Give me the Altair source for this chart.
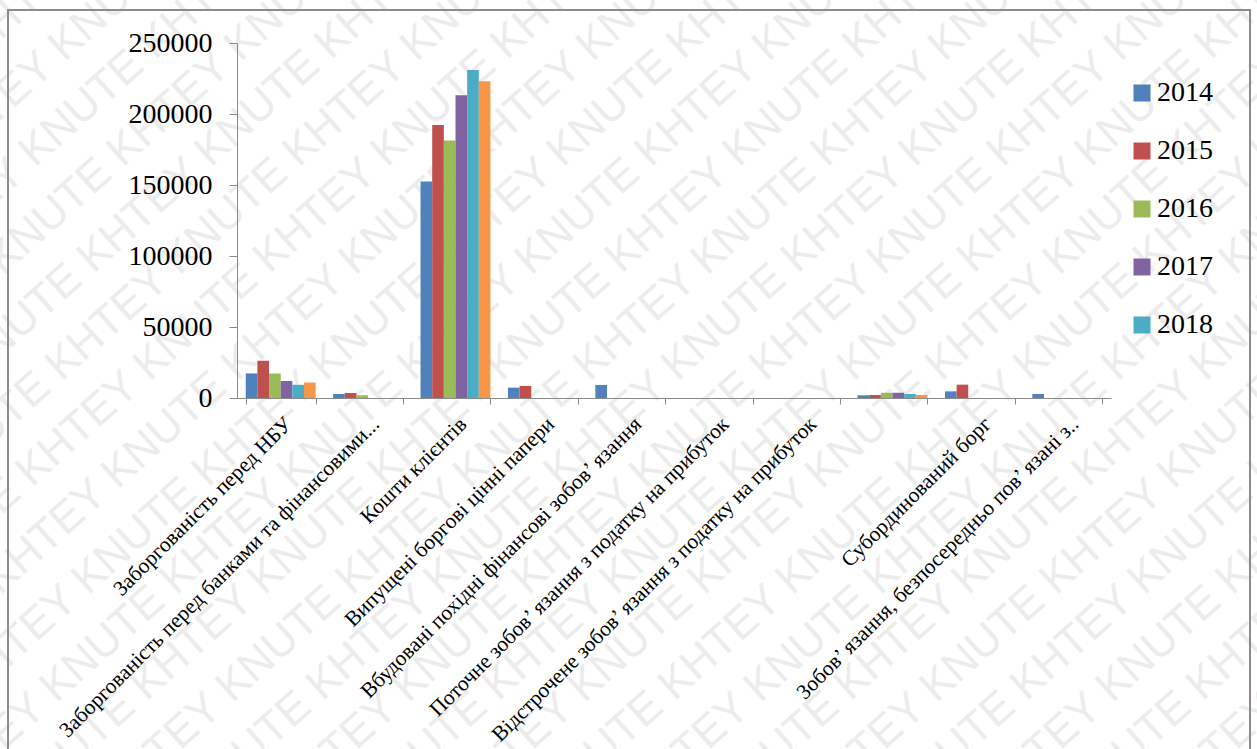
import altair as alt
import numpy as np
import pandas as pd

# Liability items (the eighth item carries no visible caption)
categories = [
    "Заборгованість перед НБУ",
    "Заборгованість перед банками та фінансовими...",
    "Кошти клієнтів",
    "Випущені боргові цінні папери",
    "Вбудовані похідні фінансові зобов’ язання",
    "Поточне зобов’ язання з податку на прибуток",
    "Відстрочене зобов’ язання з податку на прибуток",
    " ",
    "Субординований борг",
    "Зобов’ язання, безпосередньо пов’ язані з..",
]
years = ["2014", "2015", "2016", "2017", "2018", "2019"]
legend_years = ["2014", "2015", "2016", "2017", "2018"]
colors = ["#4F81BD", "#C0504D", "#9BBB59", "#8064A2", "#4BACC6", "#F79646"]

v2014 = [17300, 2800, 152500, 7300, 9200, 0, 0, 1900, 4700, 2800]
v2015 = [26300, 3500, 192200, 8500, 0, 0, 0, 2100, 9400, 0]
v2016 = [17300, 1900, 181400, 0, 0, 0, 0, 3700, 0, 0]
v2017 = [11900, 0, 213200, 0, 0, 0, 0, 3700, 0, 0]
v2018 = [9300, 0, 231000, 0, 0, 0, 0, 2800, 0, 0]
v2019 = [10900, 0, 223100, 0, 0, 0, 0, 2100, 0, 0]
y_ticks = [0, 50000, 100000, 150000, 200000, 250000]

series = [v2014, v2015, v2016, v2017, v2018, v2019]
rows = []
for year, vals in zip(years, series):
    for cat, v in zip(categories, vals):
        rows.append({"item": cat, "year": year, "value": v})
df = pd.DataFrame(rows)

SERIF = "Liberation Serif"
AXIS_GRAY = "#8a8a8a"

W, H = 874, 355
LEFT, TOP = 237, 43

# Diagonal "KHTEY KNUTE" watermark lines (pixel positions relative to the plot origin)
wm_step = 88
wm_x0 = np.arange(-950, 1300, wm_step)
wm = pd.DataFrame({
    "wx": wm_x0 - LEFT,
    "wy": np.full(len(wm_x0), 800 - TOP),
    "txt": [("KHTEY KNUTE " if i % 2 == 0 else "KNUTE KHTEY ") * 5 for i in range(len(wm_x0))],
})

watermark = alt.Chart(wm).mark_text(
    align="left", baseline="middle", angle=318, font="Liberation Sans",
    fontSize=44, color="#ececec",
).encode(
    x=alt.X("wx:Q", scale=None, axis=None),
    y=alt.Y("wy:Q", scale=None, axis=None),
    text="txt:N",
)

frame = alt.Chart(alt.Data(values=[{}])).mark_rect(
    fill="transparent", stroke="#8c8c8c", strokeWidth=2,
).encode(
    x=alt.value(8 - LEFT), x2=alt.value(1250 - LEFT),
    y=alt.value(10 - TOP), y2=alt.value(760 - TOP),
)

bars = alt.Chart(df).mark_bar().encode(
    x=alt.X(
        "item:N",
        sort=categories,
        scale=alt.Scale(paddingInner=0.2, paddingOuter=0.1),
        axis=alt.Axis(
            title=None, labelAngle=-45, labelAlign="right", labelBaseline="top",
            labelFont=SERIF, labelFontSize=21.5, labelColor="black", labelLimit=0,
            labelPadding=9, tickBand="extent", tickSize=6, tickColor=AXIS_GRAY,
            domainColor=AXIS_GRAY, grid=False, zindex=1,
        ),
    ),
    xOffset=alt.XOffset("year:N", sort=years, scale=alt.Scale(paddingInner=0, paddingOuter=0)),
    y=alt.Y(
        "value:Q",
        scale=alt.Scale(domain=[0, 250000], nice=False),
        axis=alt.Axis(
            title=None, values=y_ticks, format="d", labelFont=SERIF, labelFontSize=28,
            labelColor="black", labelPadding=17, tickSize=8, tickColor=AXIS_GRAY,
            domainColor=AXIS_GRAY, grid=False, zindex=1,
        ),
    ),
    color=alt.Color(
        "year:N",
        sort=years,
        scale=alt.Scale(domain=years, range=colors),
        legend=alt.Legend(
            title=None, values=legend_years, orient="none", legendX=891, legendY=36,
            symbolType="square", symbolSize=289, symbolStrokeWidth=0,
            labelFont=SERIF, labelFontSize=28, labelColor="black",
            labelOffset=1, rowPadding=30, zindex=1,
        ),
    ),
)

chart = alt.layer(watermark, frame, bars).resolve_scale(
    x="independent", y="independent"
).properties(
    width=W, height=H,
    autosize=alt.AutoSizeParams(type="none"),
    padding={"left": LEFT, "top": TOP, "right": 1257 - LEFT - W, "bottom": 749 - TOP - H},
    background="white",
).configure_view(stroke=None)

chart.save("out.html", embed_options={"renderer": "svg", "actions": False})
